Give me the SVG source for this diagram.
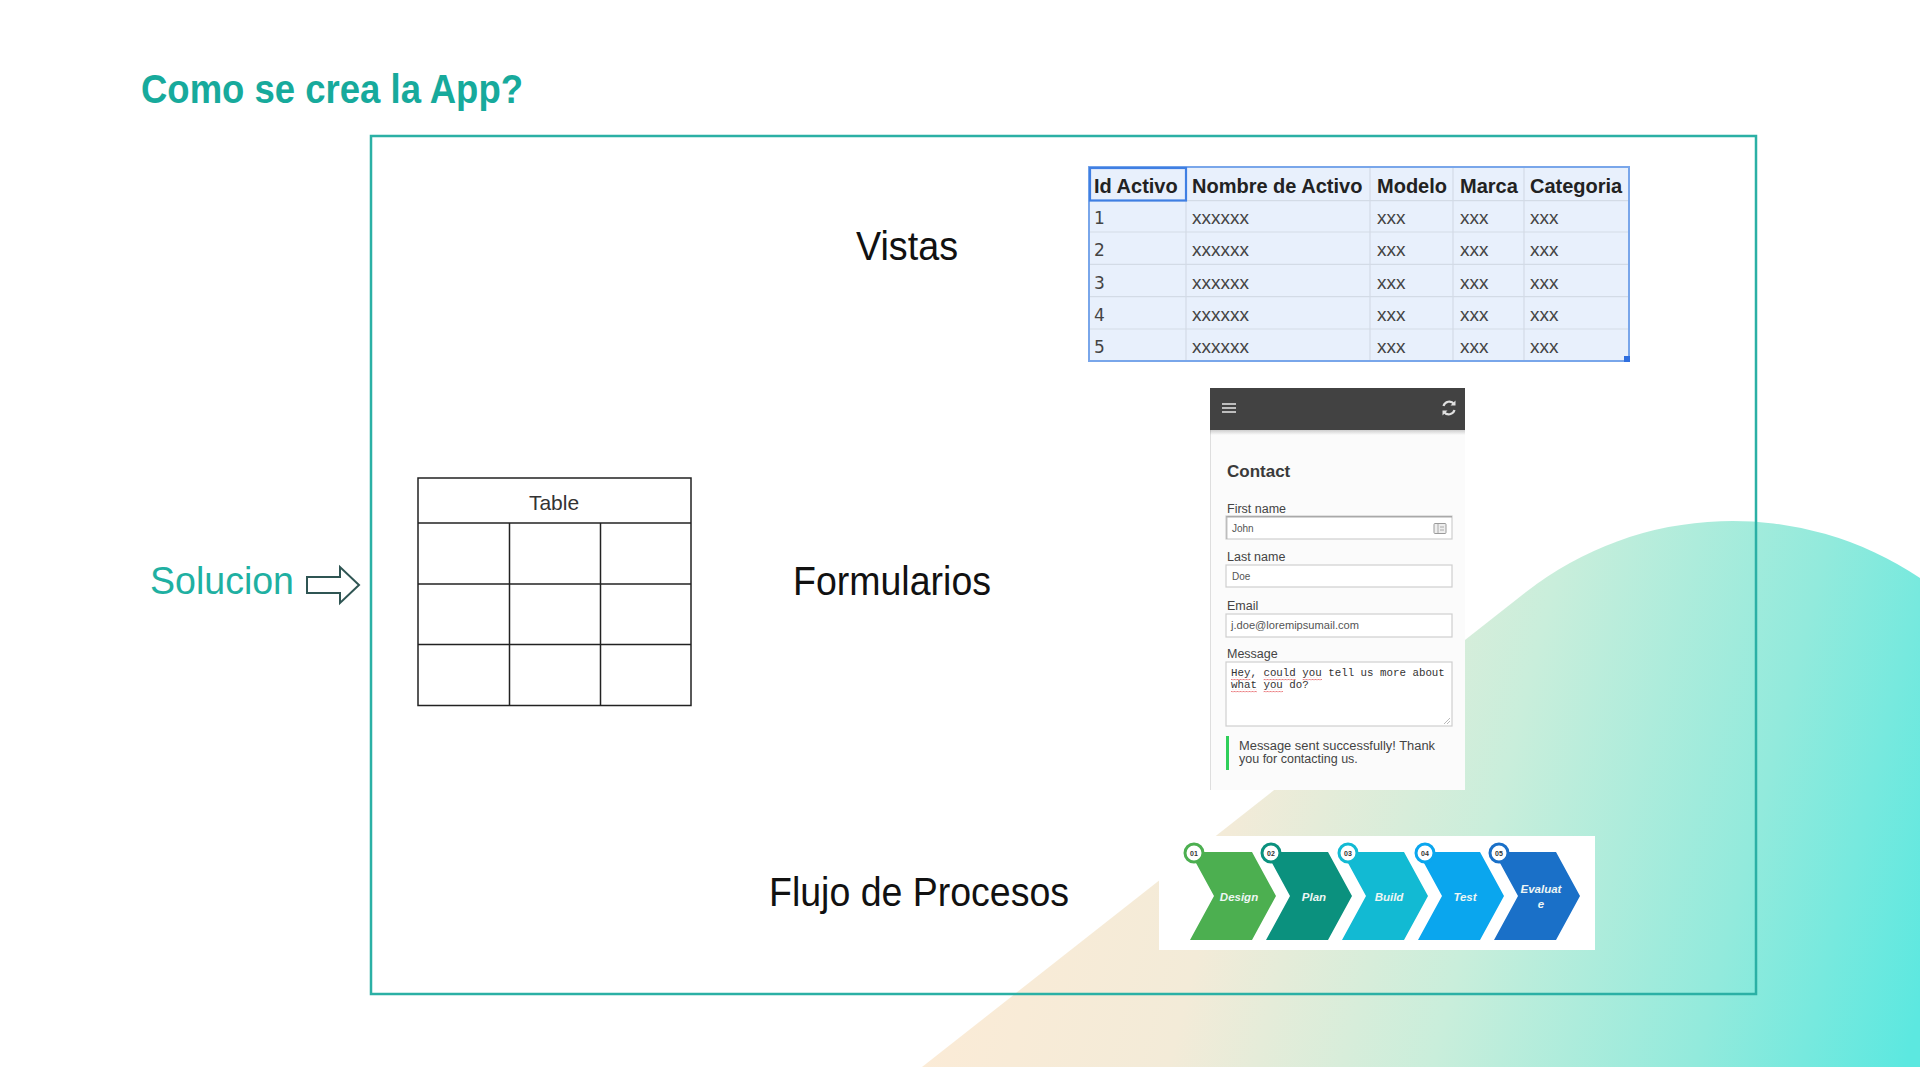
<svg xmlns="http://www.w3.org/2000/svg" width="1920" height="1080" viewBox="0 0 1920 1080">
  <defs>
    <linearGradient id="blobFill" gradientUnits="userSpaceOnUse" x1="930" y1="760" x2="1920" y2="1010">
      <stop offset="0" stop-color="#fdebd6"/>
      <stop offset="0.3" stop-color="#f3ebd8"/>
      <stop offset="0.55" stop-color="#c9eedb"/>
      <stop offset="0.8" stop-color="#92eadc"/>
      <stop offset="1" stop-color="#5ce8e0"/>
    </linearGradient>
    <linearGradient id="barShadow" x1="0" y1="0" x2="0" y2="1">
      <stop offset="0" stop-color="#000" stop-opacity="0.18"/>
      <stop offset="1" stop-color="#000" stop-opacity="0"/>
    </linearGradient>
    <pattern id="squiggle" patternUnits="userSpaceOnUse" width="3" height="3">
      <path d="M0 2.5 L1.5 1 L3 2.5" fill="none" stroke="#e0393e" stroke-width="0.8"/>
    </pattern>
    <polygon id="chev" points="0,0 62,0 86,44 62,88 0,88 24,44"/>
  </defs>

  <style>
    .title { font-family: "Liberation Sans", Arial, sans-serif; font-weight: bold; font-size: 41px; fill: #17aa9c; }
    .sol { font-family: "Liberation Sans", Arial, sans-serif; font-size: 38px; fill: #1fb0a2; }
    .label { font-family: "Liberation Sans", Arial, sans-serif; font-size: 40px; fill: #111; }
    .grid { fill: none; stroke: #222; stroke-width: 1.5; }
    .th { font-family: "Liberation Sans", Arial, sans-serif; font-weight: bold; font-size: 20px; fill: #222; }
    .td { font-family: "Liberation Sans", Arial, sans-serif; font-size: 19px; fill: #444; }
    .tn { font-family: "DejaVu Sans", "Liberation Sans", sans-serif; font-size: 17px; fill: #444; }
    .sheetline { stroke: #d3dbe6; stroke-width: 1.2; }
    .flabel { font-family: "Liberation Sans", Arial, sans-serif; font-size: 12.5px; fill: #444; }
    .fval { font-family: "Liberation Sans", Arial, sans-serif; font-size: 10px; fill: #555; }
    .finput { fill: #fff; stroke: #cfcfcf; stroke-width: 1.2; }
    .mono { font-family: "Liberation Mono", "DejaVu Sans Mono", monospace; font-size: 10.8px; fill: #333; }
    .step { font-family: "Liberation Sans", Arial, sans-serif; font-weight: bold; font-style: italic; font-size: 11.5px; fill: #eef6f4; text-anchor: middle; }
    .badge { fill: #fff; stroke-width: 3; }
    .bnum { font-family: "Liberation Sans", Arial, sans-serif; font-weight: bold; font-size: 7px; fill: #333; text-anchor: middle; }
  </style>

  <!-- page -->
  <rect x="0" y="0" width="1920" height="1080" fill="#fff"/>

  <!-- decorative backdrop shape -->
  <path d="M922 1067 L1526 592 A336 336 0 0 1 1920 578 L1920 1067 Z" fill="url(#blobFill)"/>

  <!-- outer frame -->
  <rect x="371" y="136" width="1385" height="858" fill="none" stroke="#2bb0a5" stroke-width="2.5"/>

  <text class="title" x="141" y="103" textLength="382" lengthAdjust="spacingAndGlyphs">Como se crea la App?</text>

  <g id="solucion">
    <text class="sol" x="150" y="594" textLength="144" lengthAdjust="spacingAndGlyphs">Solucion</text>
  </g>

  <!-- connectors -->
  <g id="connectors">
    <path d="M307 577 L340 577 L340 567 L359 585 L340 603 L340 593 L307 593 Z" fill="#fff" stroke="#2f5553" stroke-width="2" stroke-linejoin="miter"/>
  </g>

  <!-- database table node -->
  <g id="table-node">
    <rect class="grid" x="418" y="478" width="273" height="227.5"/>
    <line class="grid" x1="418" y1="523" x2="691" y2="523"/>
    <line class="grid" x1="418" y1="584" x2="691" y2="584"/>
    <line class="grid" x1="418" y1="644.5" x2="691" y2="644.5"/>
    <line class="grid" x1="509.5" y1="523" x2="509.5" y2="705.5"/>
    <line class="grid" x1="600.5" y1="523" x2="600.5" y2="705.5"/>
    <text x="554" y="510" font-family="Liberation Sans, Arial, sans-serif" font-size="21" fill="#333" text-anchor="middle">Table</text>
  </g>

  <g id="label-vistas">
    <text class="label" x="856" y="260" textLength="102" lengthAdjust="spacingAndGlyphs">Vistas</text>
  </g>
  <g id="label-formularios">
    <text class="label" x="793" y="595" textLength="198" lengthAdjust="spacingAndGlyphs">Formularios</text>
  </g>
  <g id="label-flujo">
    <text class="label" x="769" y="906" textLength="300" lengthAdjust="spacingAndGlyphs">Flujo de Procesos</text>
  </g>

  <!-- spreadsheet view -->
  <g id="vista-sheet">
    <rect x="1089" y="167" width="540" height="194" fill="#e8f0fc"/>
    <g class="sheetline">
      <line x1="1089" y1="200.7" x2="1629" y2="200.7"/>
      <line x1="1089" y1="232" x2="1629" y2="232"/>
      <line x1="1089" y1="264.3" x2="1629" y2="264.3"/>
      <line x1="1089" y1="296.7" x2="1629" y2="296.7"/>
      <line x1="1089" y1="329" x2="1629" y2="329"/>
      <line x1="1186" y1="167" x2="1186" y2="361"/>
      <line x1="1370" y1="167" x2="1370" y2="361"/>
      <line x1="1453" y1="167" x2="1453" y2="361"/>
      <line x1="1524" y1="167" x2="1524" y2="361"/>
    </g>
    <rect x="1089" y="167" width="540" height="194" fill="none" stroke="#79a6ea" stroke-width="2"/>
    <rect x="1090" y="168" width="96" height="32.5" fill="none" stroke="#3f7fe3" stroke-width="2.2"/>
    <rect x="1624" y="356" width="6" height="6" fill="#2f6fdf"/>

    <text class="th" x="1094" y="193">Id Activo</text>
    <text class="th" x="1192" y="193">Nombre de Activo</text>
    <text class="th" x="1377" y="193">Modelo</text>
    <text class="th" x="1460" y="193">Marca</text>
    <text class="th" x="1530" y="193">Categoria</text>

    <text class="tn" x="1094" y="224">1</text>
    <text class="tn" x="1094" y="256">2</text>
    <text class="tn" x="1094" y="288.5">3</text>
    <text class="tn" x="1094" y="321">4</text>
    <text class="tn" x="1094" y="353">5</text>

    <g class="td">
      <text x="1192" y="224">xxxxxx</text><text x="1377" y="224">xxx</text><text x="1460" y="224">xxx</text><text x="1530" y="224">xxx</text>
      <text x="1192" y="256">xxxxxx</text><text x="1377" y="256">xxx</text><text x="1460" y="256">xxx</text><text x="1530" y="256">xxx</text>
      <text x="1192" y="288.5">xxxxxx</text><text x="1377" y="288.5">xxx</text><text x="1460" y="288.5">xxx</text><text x="1530" y="288.5">xxx</text>
      <text x="1192" y="321">xxxxxx</text><text x="1377" y="321">xxx</text><text x="1460" y="321">xxx</text><text x="1530" y="321">xxx</text>
      <text x="1192" y="353">xxxxxx</text><text x="1377" y="353">xxx</text><text x="1460" y="353">xxx</text><text x="1530" y="353">xxx</text>
    </g>
  </g>

  <!-- contact form -->
  <g id="form-contact">
    <rect x="1210" y="430" width="255" height="360" fill="#fbfbfb"/>
    <line x1="1210.5" y1="430" x2="1210.5" y2="790" stroke="#dedede" stroke-width="1"/>
    <rect x="1210" y="430" width="255" height="5" fill="url(#barShadow)"/>
    <rect x="1210" y="388" width="255" height="42" fill="#424242"/>
    <g stroke="#bdbdbd" stroke-width="2">
      <line x1="1222" y1="404" x2="1236" y2="404"/>
      <line x1="1222" y1="408" x2="1236" y2="408"/>
      <line x1="1222" y1="412" x2="1236" y2="412"/>
    </g>
    <g fill="none" stroke="#e0e0e0" stroke-width="2.2">
      <path d="M1443.5 406 A6 6 0 0 1 1454 404"/>
      <path d="M1454.5 410 A6 6 0 0 1 1444 412"/>
    </g>
    <path d="M1455.5 400.5 L1455.5 405.5 L1450.5 405.5 Z" fill="#e0e0e0"/>
    <path d="M1442.5 415.5 L1442.5 410.5 L1447.5 410.5 Z" fill="#e0e0e0"/>

    <text x="1227" y="477" font-family="Liberation Sans, Arial, sans-serif" font-weight="bold" font-size="17" fill="#3a3a3a">Contact</text>

    <text class="flabel" x="1227" y="512.5">First name</text>
    <rect class="finput" x="1226" y="516" width="226" height="23"/>
    <line x1="1226" y1="516.8" x2="1452" y2="516.8" stroke="#a9a9a9" stroke-width="1.6"/>
    <line x1="1226.8" y1="516" x2="1226.8" y2="539" stroke="#b5b5b5" stroke-width="1.2"/>
    <text class="fval" x="1232" y="531.5">John</text>
    <rect x="1434" y="523.5" width="12" height="10" rx="1" fill="#eee" stroke="#9a9a9a" stroke-width="1"/>
    <line x1="1438" y1="524" x2="1438" y2="533" stroke="#9a9a9a" stroke-width="0.8"/>
    <line x1="1440" y1="527" x2="1444" y2="527" stroke="#9a9a9a" stroke-width="0.8"/>
    <line x1="1440" y1="530" x2="1444" y2="530" stroke="#9a9a9a" stroke-width="0.8"/>

    <text class="flabel" x="1227" y="561">Last name</text>
    <rect class="finput" x="1226" y="565" width="226" height="22"/>
    <text class="fval" x="1232" y="580">Doe</text>

    <text class="flabel" x="1227" y="610">Email</text>
    <rect class="finput" x="1226" y="614" width="226" height="23"/>
    <text class="fval" x="1231" y="629" textLength="128" lengthAdjust="spacingAndGlyphs">j.doe@loremipsumail.com</text>

    <text class="flabel" x="1227" y="658">Message</text>
    <rect class="finput" x="1226" y="662" width="226" height="64"/>
    <text class="mono" x="1231" y="676">Hey, could you tell us more about</text>
    <text class="mono" x="1231" y="688">what you do?</text>
    <rect x="1231" y="677.5" width="19.5" height="3" fill="url(#squiggle)"/>
    <rect x="1263.5" y="677.5" width="32.5" height="3" fill="url(#squiggle)"/>
    <rect x="1302.5" y="677.5" width="19.5" height="3" fill="url(#squiggle)"/>
    <rect x="1231" y="689.5" width="26" height="3" fill="url(#squiggle)"/>
    <rect x="1263.5" y="689.5" width="19.5" height="3" fill="url(#squiggle)"/>
    <g stroke="#aaa" stroke-width="0.8">
      <line x1="1444" y1="724" x2="1450" y2="718"/>
      <line x1="1447" y1="724" x2="1450" y2="721"/>
    </g>

    <rect x="1226" y="736" width="3" height="34" fill="#2fcf5a"/>
    <text class="flabel" x="1239" y="750" textLength="196" lengthAdjust="spacingAndGlyphs">Message sent successfully! Thank</text>
    <text class="flabel" x="1239" y="763">you for contacting us.</text>
  </g>

  <!-- process flow -->
  <g id="flow-process">
    <rect x="1159" y="836" width="436" height="114" fill="#fff"/>
    <use href="#chev" x="1190" y="852" fill="#4caf50"/>
    <use href="#chev" x="1266" y="852" fill="#0b917e"/>
    <use href="#chev" x="1342" y="852" fill="#12bad3"/>
    <use href="#chev" x="1418" y="852" fill="#0aa6ee"/>
    <use href="#chev" x="1494" y="852" fill="#1a70c8"/>

    <circle class="badge" cx="1194" cy="853" r="9" stroke="#4caf50"/>
    <circle class="badge" cx="1271" cy="853" r="9" stroke="#0b917e"/>
    <circle class="badge" cx="1348" cy="853" r="9" stroke="#12bad3"/>
    <circle class="badge" cx="1425" cy="853" r="9" stroke="#0aa6ee"/>
    <circle class="badge" cx="1499" cy="853" r="9" stroke="#1a70c8"/>
    <text class="bnum" x="1194" y="855.5">01</text>
    <text class="bnum" x="1271" y="855.5">02</text>
    <text class="bnum" x="1348" y="855.5">03</text>
    <text class="bnum" x="1425" y="855.5">04</text>
    <text class="bnum" x="1499" y="855.5">05</text>

    <text class="step" x="1239" y="901">Design</text>
    <text class="step" x="1314" y="901">Plan</text>
    <text class="step" x="1389" y="901">Build</text>
    <text class="step" x="1465" y="901">Test</text>
    <text class="step" x="1541" y="893">Evaluat</text>
    <text class="step" x="1541" y="908">e</text>
  </g>
</svg>
